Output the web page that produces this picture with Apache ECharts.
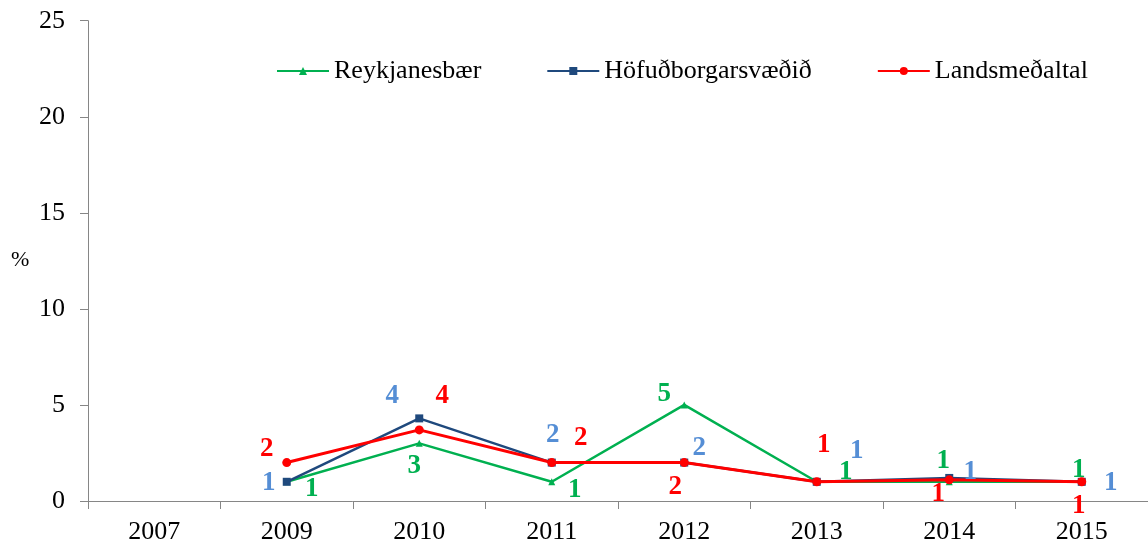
<!DOCTYPE html>
<html>
<head>
<meta charset="utf-8">
<script src="https://cdn.jsdelivr.net/npm/echarts@6/dist/echarts.min.js"></script>
<style>
  html, body { margin: 0; padding: 0; background: #fff; }
  #chart { width: 1148px; height: 545px; }
</style>
</head>
<body>
<div id="chart"></div>
<script>
var years = ["2007", "2009", "2010", "2011", "2012", "2013", "2014", "2015"];
var yTicks = [0, 5, 10, 15, 20, 25];

var reykjanesbaer = [null, 1, 3, 1, 5, 1, 1, 1];
var hofudborgarsvaedid = [null, 1, 4.3, 2, 2, 1, 1.2, 1];
var landsmedaltal = [null, 2, 3.7, 2, 2, 1, 1.1, 1];

// label offsets (px) from each point, per series
var greenOffsets = [null, [25, 7], [-5, 23], [23, 8], [-20, -11], [29, -10], [-6, -21], [-3, -12]];
var blueOffsets = [null, [-18, 1], [-27, -22], [1, -28], [15, -15], [40, -31], [21, -6], [29, 1]];
var redOffsets = [null, [-20, -14], [23, -34], [29, -25], [-9, 24], [7, -37], [-11, 14], [-3, 24]];

var FONT = "'Liberation Serif', 'Times New Roman', serif";

function buildData(values, offsets, labelColor) {
  return values.map(function (v, i) {
    if (v === null) return null;
    return {
      value: v,
      label: {
        show: true,
        position: "inside",
        offset: offsets[i],
        color: labelColor,
        fontFamily: FONT,
        fontWeight: "bold",
        fontSize: 27,
        formatter: function (p) {
          return Math.round(p.value);
        }
      }
    };
  });
}

function lineSeries(name, values, offsets, color, labelColor, symbol, size, width) {
  return {
    name: name,
    type: "line",
    data: buildData(values, offsets, labelColor),
    symbol: symbol,
    symbolSize: size,
    showAllSymbol: true,
    lineStyle: { color: color, width: width },
    itemStyle: { color: color },
    emphasis: { disabled: true },
    animation: false
  };
}

var chart = echarts.init(document.getElementById("chart"));
chart.setOption({
  animation: false,
  backgroundColor: "#fff",
  grid: {
    left: 88,
    right: -4,
    top: 20.7,
    bottom: 43.3,
    containLabel: false
  },
  legend: {
    left: 271,
    top: 53,
    itemWidth: 52,
    itemHeight: 10,
    itemGap: 65,
    textStyle: {
      fontFamily: FONT,
      fontSize: 26,
      color: "#000",
      padding: [0, 0, 0, 0]
    },
    data: ["Reykjanesbær", "Höfuðborgarsvæðið", "Landsmeðaltal"]
  },
  graphic: [
    {
      type: "text",
      left: 11,
      top: 249,
      style: { text: "%", font: "22px " + FONT, fill: "#000" }
    }
  ],
  xAxis: {
    type: "category",
    data: years,
    boundaryGap: true,
    axisLine: { lineStyle: { color: "#868686", width: 1 } },
    axisTick: { show: true, length: 8, alignWithLabel: false, lineStyle: { color: "#868686" } },
    axisLabel: {
      margin: 18,
      color: "#000",
      fontFamily: FONT,
      fontSize: 26
    },
    splitLine: { show: false }
  },
  yAxis: {
    type: "value",
    min: yTicks[0],
    max: yTicks[yTicks.length - 1],
    interval: 5,
    axisLine: { show: true, lineStyle: { color: "#868686", width: 1 } },
    axisTick: { show: true, length: 8, lineStyle: { color: "#868686" } },
    axisLabel: {
      margin: 23,
      color: "#000",
      fontFamily: FONT,
      fontSize: 26
    },
    splitLine: { show: false }
  },
  series: [
    lineSeries("Reykjanesbær", reykjanesbaer, greenOffsets, "#00b050", "#00b050", "triangle", 7, 2.5),
    lineSeries("Höfuðborgarsvæðið", hofudborgarsvaedid, blueOffsets, "#1f497d", "#558ed5", "rect", 8, 2.5),
    lineSeries("Landsmeðaltal", landsmedaltal, redOffsets, "#ff0000", "#ff0000", "circle", 9, 3)
  ]
});
</script>
</body>
</html>
